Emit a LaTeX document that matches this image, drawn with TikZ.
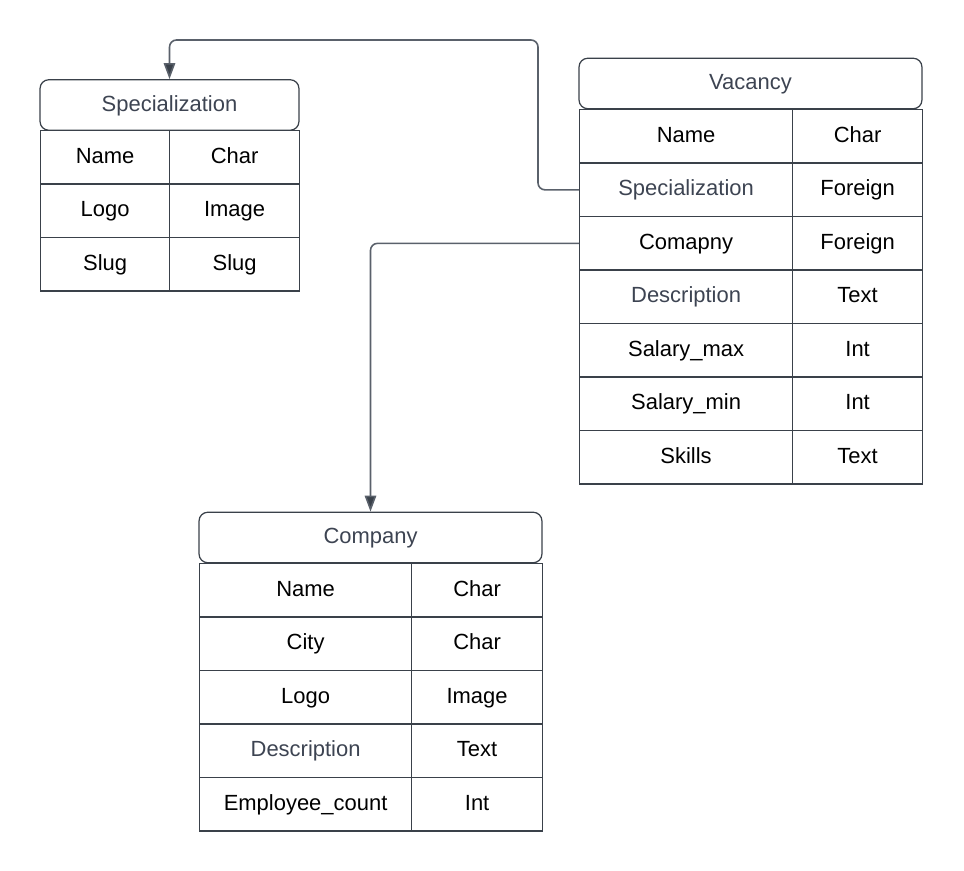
\documentclass[tikz,border=0pt]{standalone}
\usepackage{fontspec}
\setmainfont{Liberation Sans}
\usetikzlibrary{arrows.meta,positioning}
\definecolor{linecolor}{HTML}{3A414A}
\definecolor{linkcolor}{HTML}{5A616B}
\definecolor{labelgray}{HTML}{3D4452}

\tikzset{
  hdr/.style={draw=linecolor, line width=0.7pt, rounded corners=5pt,
    minimum height=1.01cm, inner sep=0pt, text=labelgray,
    text height=1.75ex, text depth=0.45ex,
    font=\fontsize{12.5}{14}\selectfont},
  cell/.style={draw=linecolor, line width=0.7pt, minimum height=1.07cm,
    inner sep=0pt, anchor=north west, text height=1.75ex, text depth=0.45ex,
    font=\fontsize{12.5}{14}\selectfont},
  link/.style={draw=linkcolor, line width=0.9pt, rounded corners=4pt,
    -{Triangle[length=3.2mm,width=2.3mm,fill=linecolor]}}
}

\begin{document}
\begin{tikzpicture}[x=0.02cm, y=-0.02cm]
\useasboundingbox (0,0) rectangle (964,871);

% ---- Specialization table ----
\node[hdr, minimum width=5.18cm] (spec) at (169.5,105) {Specialization};
\foreach \i/\n/\t/\c in {1/Name/Char/black,2/Logo/Image/black,3/Slug/Slug/black} {
  \node[cell, minimum width=2.58cm, text=\c] (spec-n\i) at (40,{130+53.5*(\i-1)}) {\n};
  \node[cell, minimum width=2.6cm] (spec-t\i) at (169,{130+53.5*(\i-1)}) {\t};
}

% ---- Vacancy table ----
\node[hdr, minimum width=6.86cm] (vac) at (750.5,83.5) {Vacancy};
\foreach \i/\n/\t/\c in {1/Name/Char/black,2/Specialization/Foreign/labelgray,
    3/Comapny/Foreign/black,4/Description/Text/labelgray,5/Salary\_max/Int/black,
    6/Salary\_min/Int/black,7/Skills/Text/black} {
  \node[cell, minimum width=4.26cm, text=\c] (vac-n\i) at (579,{109+53.5*(\i-1)}) {\n};
  \node[cell, minimum width=2.6cm] (vac-t\i) at (792,{109+53.5*(\i-1)}) {\t};
}

% ---- Company table ----
\node[hdr, minimum width=6.86cm] (comp) at (370.5,537.5) {Company};
\foreach \i/\n/\t/\c in {1/Name/Char/black,2/City/Char/black,3/Logo/Image/black,
    4/Description/Text/labelgray,5/Employee\_count/Int/black} {
  \node[cell, minimum width=4.24cm, text=\c] (comp-n\i) at (199,{563+53.5*(\i-1)}) {\n};
  \node[cell, minimum width=2.62cm] (comp-t\i) at (411,{563+53.5*(\i-1)}) {\t};
}

% ---- Foreign keys ----
\coordinate (bend) at (538,40);
\draw[link] (vac-n2.west) -| (bend) -| (spec.north);
\draw[link] (vac-n3.west) -| (comp.north);

\end{tikzpicture}
\end{document}
